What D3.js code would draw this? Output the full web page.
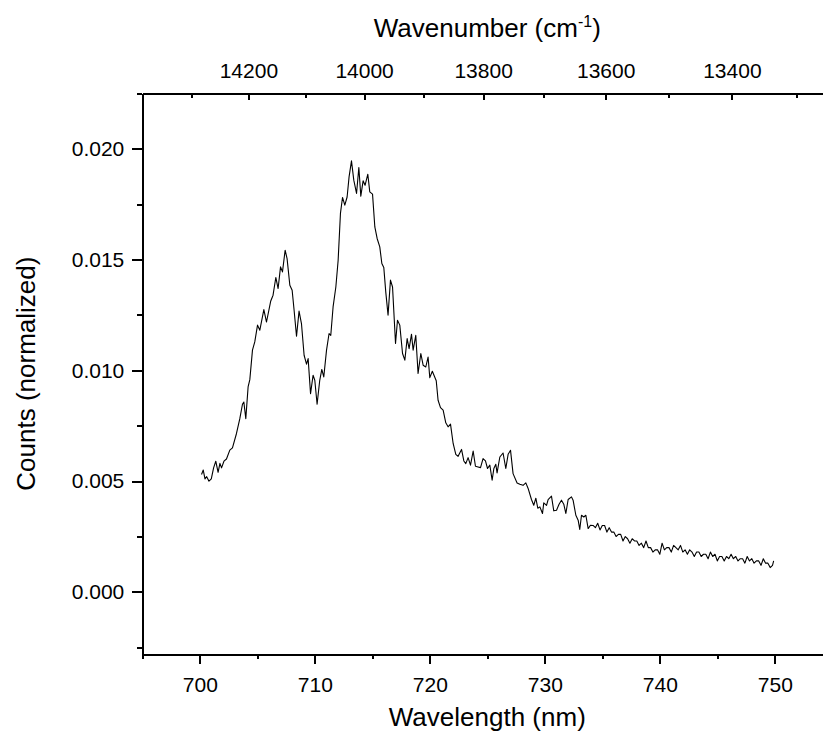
<!DOCTYPE html>
<html>
<head>
<meta charset="utf-8">
<script src="https://cdn.jsdelivr.net/npm/d3@7"></script>
<style>
  body { margin: 0; background: #fff; }
  svg { display: block; font-family: Arial, "Liberation Sans", sans-serif; }
  .axis path, .axis line { stroke: #000; stroke-width: 2; shape-rendering: crispEdges; }
  .axis text { fill: #000; font-size: 21px; font-family: Arial, "Liberation Sans", sans-serif; }
  .axis-title { font-size: 26px; fill: #000; }
</style>
</head>
<body>
<script>
//data
var wavelength = [
  700.15, 700.3, 700.45, 700.6, 700.8, 701.0, 701.2, 701.39, 701.59, 701.75,
  701.89, 702.1, 702.32, 702.61, 702.84, 703.19, 703.48, 703.71, 703.83, 704.0,
  704.2, 704.35, 704.58, 704.78, 705.02, 705.22, 705.57, 705.8, 706.17, 706.37,
  706.61, 706.81, 707.02, 707.19, 707.42, 707.59, 707.83, 708.03, 708.2, 708.41,
  708.63, 708.84, 709.07, 709.28, 709.42, 709.63, 709.85, 710.0, 710.2, 710.43,
  710.61, 710.78, 711.02, 711.24, 711.39, 711.59, 711.83, 712.03, 712.23, 712.41,
  712.61, 712.81, 712.98, 713.19, 713.39, 713.63, 713.83, 714.0, 714.2, 714.37,
  714.61, 714.78, 715.02, 715.22, 715.42, 715.65, 715.83, 716.0, 716.17, 716.37,
  716.58, 716.76, 717.02, 717.19, 717.39, 717.63, 717.83, 718.03, 718.2, 718.41,
  718.55, 718.78, 718.98, 719.22, 719.42, 719.65, 719.85, 720.0, 720.22, 720.56,
  720.72, 720.93, 721.16, 721.39, 721.59, 721.8, 722.03, 722.26, 722.46, 722.76,
  722.96, 723.13, 723.33, 723.54, 723.77, 723.97, 724.2, 724.41, 724.63, 724.84,
  725.02, 725.22, 725.42, 725.57, 725.74, 725.85, 726.09, 726.37, 726.61, 726.81,
  727.02, 727.24, 727.59, 727.83, 728.11, 728.35, 728.55, 728.84, 729.04, 729.22,
  729.39, 729.57, 729.8, 729.91, 730.15, 730.29, 730.58, 730.78, 731.02, 731.24,
  731.45, 731.65, 731.83, 732.03, 732.32, 732.46, 732.7, 732.9, 733.04, 733.19,
  733.39, 733.57, 733.77, 733.97, 734.2, 734.4, 734.6, 734.8, 735.0, 735.2,
  735.4, 735.6, 735.8, 736.0, 736.2, 736.4, 736.6, 736.8, 737.0, 737.2,
  737.4, 737.6, 737.8, 738.0, 738.2, 738.4, 738.6, 738.8, 739.0, 739.2,
  739.4, 739.6, 739.8, 740.0, 740.2, 740.4, 740.6, 740.8, 741.0, 741.2,
  741.4, 741.6, 741.8, 742.0, 742.2, 742.4, 742.6, 742.8, 743.0, 743.2,
  743.4, 743.6, 743.8, 744.0, 744.2, 744.4, 744.6, 744.8, 745.0, 745.2,
  745.4, 745.6, 745.8, 746.0, 746.2, 746.4, 746.6, 746.8, 747.0, 747.2,
  747.4, 747.6, 747.8, 748.0, 748.2, 748.4, 748.6, 748.8, 749.0, 749.2,
  749.4, 749.6, 749.8, 749.9
];
var counts = [
  0.0053, 0.0055, 0.0051, 0.0052, 0.0050, 0.0051, 0.0056, 0.0059, 0.0054, 0.0058,
  0.0056, 0.0059, 0.0060, 0.0064, 0.0065, 0.00715, 0.00782, 0.00847, 0.00857, 0.00782,
  0.00925, 0.00958, 0.01091, 0.01128, 0.01204, 0.01181, 0.01274, 0.01218, 0.01313, 0.01339,
  0.01419, 0.01369, 0.01467, 0.01444, 0.01542, 0.01504, 0.01384, 0.01361, 0.01271, 0.01154,
  0.01267, 0.01211, 0.01068, 0.01028, 0.01053, 0.00895, 0.00978, 0.00955, 0.00847, 0.00955,
  0.01004, 0.0097, 0.01091, 0.01166, 0.01158, 0.01286, 0.01376, 0.01497, 0.01708, 0.0178,
  0.01745, 0.01782, 0.01873, 0.01945, 0.01858, 0.01798, 0.01915, 0.01786, 0.01855, 0.01835,
  0.01885, 0.01805, 0.01795, 0.01647, 0.01595, 0.01557, 0.01482, 0.01464, 0.01354, 0.01249,
  0.01407, 0.01376, 0.01121, 0.01226, 0.01204, 0.01076, 0.01046, 0.01143, 0.01098, 0.01163,
  0.01091, 0.01158, 0.00986, 0.01076, 0.01023, 0.01015, 0.0106, 0.00967, 0.00996, 0.00953,
  0.00865, 0.00832, 0.0082, 0.00763, 0.00745, 0.00757, 0.0067, 0.00621, 0.00612, 0.00643,
  0.00591, 0.00579, 0.00606, 0.00572, 0.00636, 0.00567, 0.00564, 0.00561, 0.00602, 0.00591,
  0.00557, 0.00572, 0.00504, 0.00557, 0.00576, 0.00537, 0.00609, 0.00627, 0.00557, 0.00621,
  0.00639, 0.00534, 0.00492, 0.00486, 0.00481, 0.00492, 0.00467, 0.00417, 0.00391, 0.00423,
  0.00378, 0.00384, 0.00354, 0.00402, 0.00391, 0.00417, 0.00432, 0.00366, 0.00369, 0.00396,
  0.00414, 0.00396, 0.00354, 0.00417, 0.00429, 0.00414, 0.00346, 0.00324, 0.00282, 0.00346,
  0.00338, 0.00346, 0.00286, 0.00301, 0.0030, 0.0029, 0.0031, 0.0028, 0.0030, 0.0030,
  0.0027, 0.0029, 0.0027, 0.0027, 0.0025, 0.0026, 0.0026, 0.0023, 0.0025, 0.0024,
  0.0022, 0.0024, 0.0023, 0.0023, 0.0021, 0.0022, 0.0020, 0.0023, 0.0020, 0.0020,
  0.0018, 0.0019, 0.0019, 0.0017, 0.0022, 0.0019, 0.0020, 0.0020, 0.0018, 0.0021,
  0.0020, 0.0019, 0.0021, 0.0018, 0.0019, 0.0017, 0.0019, 0.0018, 0.0016, 0.0018,
  0.0018, 0.0016, 0.0017, 0.0017, 0.0015, 0.0018, 0.0016, 0.0017, 0.0014, 0.0016,
  0.0016, 0.0014, 0.0016, 0.0015, 0.0017, 0.0015, 0.0016, 0.0014, 0.0015, 0.0015,
  0.0013, 0.0016, 0.0014, 0.0015, 0.0013, 0.0014, 0.0014, 0.0012, 0.0015, 0.0013,
  0.0013, 0.0011, 0.0012, 0.0014
];

//tick labels
var x_ticks = [700, 710, 720, 730, 740, 750];
var y_ticks = [0.000, 0.005, 0.010, 0.015, 0.020];
var wn_ticks = [14200, 14000, 13800, 13600, 13400];

//hardcoded parameters
var svg_width = 823;
var svg_height = 731;
var x_domain = [695, 755];
var y_domain = [-0.0028, 0.0225];
var plot_left = 142.3;
var plot_right = 832.3;   //frame runs past the right edge of the picture
var plot_top = 93.3;
var plot_bottom = 654;

var svg = d3.select('body').append('svg')
    .attr('width', svg_width)
    .attr('height', svg_height);

//scales
var scale_x = d3.scaleLinear().domain(x_domain).range([plot_left, plot_right]);
var scale_y = d3.scaleLinear().domain(y_domain).range([plot_bottom, plot_top]);

//bottom axis (wavelength)
var minor_x = d3.range(695, 756, 5).filter(function(v) { return v % 10 != 0; });
svg.append('g').attr('class', 'axis')
    .attr('transform', 'translate(0,' + plot_bottom + ')')
    .call(d3.axisBottom(scale_x).tickValues(minor_x).tickFormat('').tickSize(5).tickSizeOuter(0));
svg.append('g').attr('class', 'axis')
    .attr('transform', 'translate(0,' + plot_bottom + ')')
    .call(d3.axisBottom(scale_x).tickValues(x_ticks).tickFormat(d3.format('d')).tickSize(10).tickSizeOuter(0).tickPadding(10))
    .selectAll('text').attr('dy', '0.85em');

//left axis (counts)
var minor_y = d3.range(-0.0025, 0.0226, 0.005);
svg.append('g').attr('class', 'axis')
    .attr('transform', 'translate(' + plot_left + ',0)')
    .call(d3.axisLeft(scale_y).tickValues(minor_y).tickFormat('').tickSize(5).tickSizeOuter(0));
svg.append('g').attr('class', 'axis')
    .attr('transform', 'translate(' + plot_left + ',0)')
    .call(d3.axisLeft(scale_y).tickValues(y_ticks).tickFormat(d3.format('.3f')).tickSize(10).tickSizeOuter(0).tickPadding(8));

//top axis (wavenumber, linked through 1e7 / nm)
function wn_to_nm(w) { return 1e7 / w; }
var minor_wn = [14300, 14100, 13900, 13700, 13500, 13300];
svg.append('g').attr('class', 'axis')
    .attr('transform', 'translate(0,' + plot_top + ')')
    .call(d3.axisTop(scale_x).tickValues(minor_wn.map(wn_to_nm)).tickFormat('').tickSize(-5).tickSizeOuter(0));
svg.append('g').attr('class', 'axis')
    .attr('transform', 'translate(0,' + plot_top + ')')
    .call(d3.axisTop(scale_x).tickValues(wn_ticks.map(wn_to_nm))
        .tickFormat(function(d) { return Math.round(1e7 / d); })
        .tickSize(-7).tickSizeOuter(0).tickPadding(15));

//axis titles
var mid_x = (plot_left + plot_right) / 2;
svg.append('text').attr('class', 'axis-title')
    .attr('text-anchor', 'middle')
    .attr('x', mid_x).attr('y', 726)
    .text('Wavelength (nm)');

var top_title = svg.append('text').attr('class', 'axis-title')
    .attr('text-anchor', 'middle')
    .attr('x', mid_x).attr('y', 37);
top_title.append('tspan').text('Wavenumber (cm');
top_title.append('tspan').attr('dy', -10).style('font-size', '16px').text('-1');
top_title.append('tspan').attr('dy', 10).text(')');

svg.append('text').attr('class', 'axis-title')
    .attr('text-anchor', 'middle')
    .attr('transform', 'translate(35,' + ((plot_top + plot_bottom) / 2) + ') rotate(-90)')
    .text('Counts (normalized)');

//spectrum
var points = wavelength.map(function(w, i) { return [w, counts[i]]; });
var line = d3.line()
    .x(function(d) { return scale_x(d[0]); })
    .y(function(d) { return scale_y(d[1]); });
svg.append('path')
    .datum(points)
    .attr('fill', 'none')
    .attr('stroke', '#000')
    .attr('stroke-width', 1.1)
    .attr('stroke-linejoin', 'round')
    .attr('d', line);
</script>
</body>
</html>
